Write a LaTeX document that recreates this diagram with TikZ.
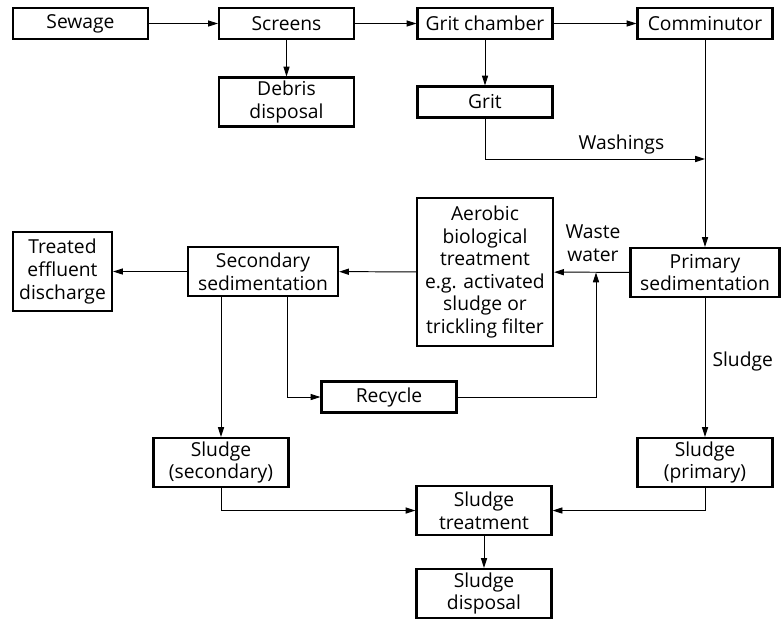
\documentclass[tikz,border=0pt]{standalone}
\usepackage{fontspec}
\setmainfont{Open Sans}
\usetikzlibrary{arrows.meta,positioning}
\tikzset{
  box/.style={draw, line width=1.6pt, align=center, inner sep=0pt,
    font=\fontsize{13.7}{16.1}\selectfont, minimum width=3.375cm, minimum height=0.775cm},
  twobox/.style={box, minimum height=1.225cm},
  widebox/.style={twobox, minimum width=3.75cm},
  lbl/.style={align=center, inner sep=1pt, font=\fontsize{13.7}{16.1}\selectfont},
  arrow/.style={-{Triangle[length=7pt, width=4.4pt]}, line width=0.7pt}
}

\begin{document}
\begin{tikzpicture}[x=0.025cm, y=-0.025cm]
  \useasboundingbox (0,0) rectangle (782,619);

  % top row
  \node[box] (sewage) at (80.5,23.5) {Sewage};
  \node[box] (screens) at (286.5,23.5) {Screens};
  \node[box] (gritch) at (485,23.5) {Grit chamber};
  \node[box] (comm) at (705,23.5) {Comminutor};
  \node[twobox] (debris) at (286.5,102) {Debris\\disposal};
  \node[box] (grit) at (485,102) {Grit};

  % middle row
  \node[box, minimum width=2.475cm, minimum height=1.975cm] (treated) at (62.5,271.5) {Treated\\effluent\\discharge};
  \node[widebox] (secsed) at (263,271.5) {Secondary\\sedimentation};
  \node[box, minimum width=3.4cm, minimum height=3.7cm] (aerobic) at (485,272) {Aerobic\\biological\\treatment\\e.g. activated\\sludge or\\trickling filter};
  \node[widebox, minimum width=3.725cm] (primsed) at (705,272.5) {Primary\\sedimentation};
  \node[box] (recycle) at (389,397) {Recycle};

  % sludge line
  \node[twobox] (slsec) at (221,462.5) {Sludge\\(secondary)};
  \node[twobox] (slpri) at (705,462.5) {Sludge\\(primary)};
  \node[twobox] (sltreat) at (484,510.5) {Sludge\\treatment};
  \node[twobox] (sldisp) at (484,593.5) {Sludge\\disposal};

  \coordinate (wash) at (705,159);
  \coordinate (ww) at (596,272.5);

  \draw[arrow] (sewage) -- (screens);
  \draw[arrow] (screens) -- (gritch);
  \draw[arrow] (gritch) -- (comm);
  \draw[arrow] (screens) -- (debris);
  \draw[arrow] (gritch) -- (grit);
  \draw[arrow] (grit.south) |- node[lbl, pos=0.81, above=2pt] {Washings} (wash);
  \draw[arrow] (comm) -- (primsed);
  \draw[arrow] (primsed) -- (aerobic);
  \node[lbl] at (593,243) {Waste\\water};
  \draw[arrow] (aerobic) -- (secsed);
  \draw[arrow] (secsed) -- (treated);
  \draw[arrow] ([xshift=0.6cm]secsed.south) |- (recycle.west);
  \draw[arrow] (recycle.east) -| (ww);
  \draw[arrow] (slsec.north |- secsed.south) -- (slsec.north);
  \draw[arrow] (primsed) -- node[lbl, right=4pt, pos=0.46] {Sludge} (slpri);
  \draw[arrow] (slsec.south) |- (sltreat.west);
  \draw[arrow] (slpri.south) |- (sltreat.east);
  \draw[arrow] (sltreat) -- (sldisp);
\end{tikzpicture}
\end{document}
